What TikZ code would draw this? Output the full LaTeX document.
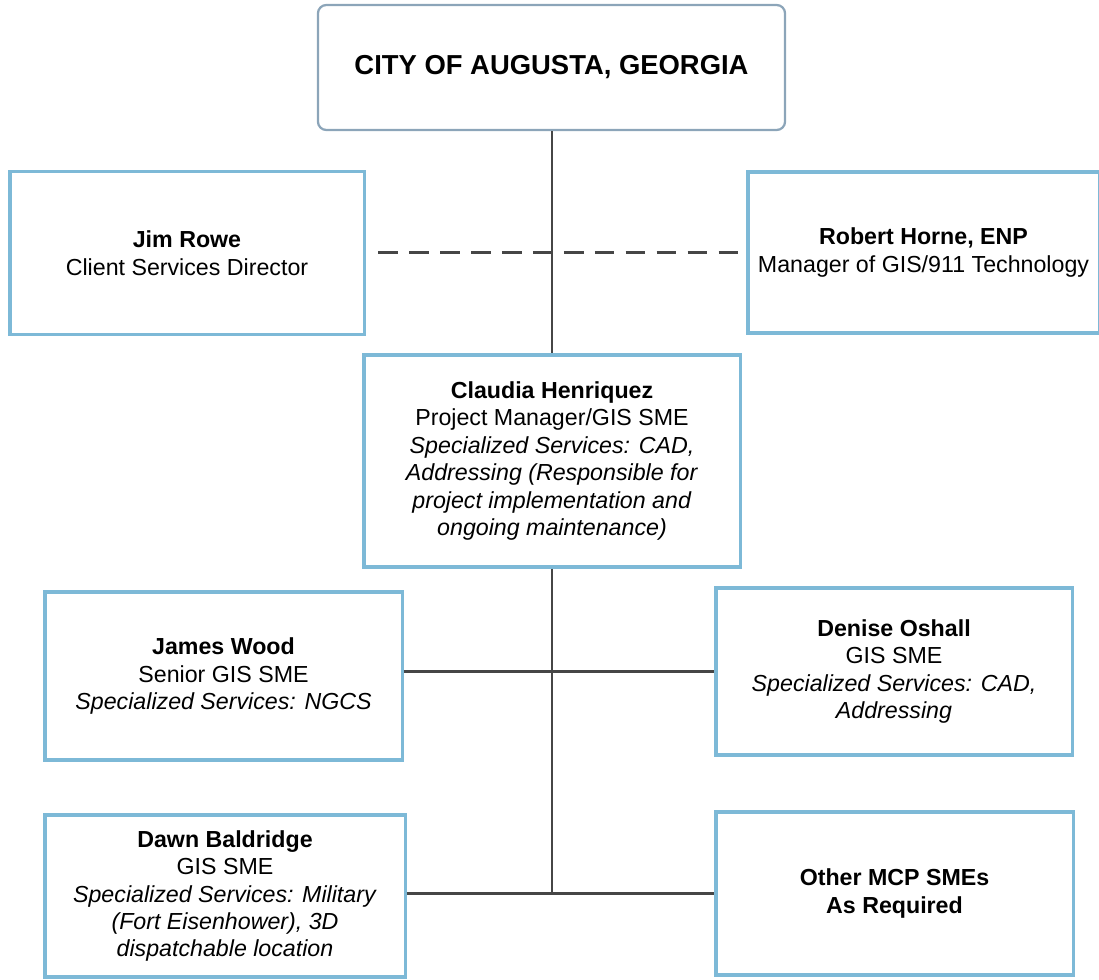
\documentclass[tikz,border=0pt]{standalone}
\usepackage{fontspec}
\setmainfont{Liberation Sans}
\usepackage{xcolor}
\definecolor{boxblue}{RGB}{125,185,215}
\definecolor{topgrey}{RGB}{140,165,185}
\definecolor{linegrey}{RGB}{70,70,70}
\tikzset{
    person/.style={draw=boxblue, line width=2.2pt, fill=white, align=center,
        font=\fontsize{16.5}{19.5}\selectfont, inner sep=0pt},
    link/.style={draw=linegrey, line width=1.8pt},
    tie/.style={draw=linegrey, line width=1.8pt, dash pattern=on 14pt off 8pt}
}
\begin{document}
\begin{tikzpicture}[x=0.025cm, y=-0.025cm]
    \useasboundingbox (0,0) rectangle (1099,980);

    % client
    \node (city) at (551.5, 67.5) [draw=topgrey, line width=1.6pt, rounded corners=6pt,
        minimum width=11.675cm, minimum height=3.125cm,
        font=\fontsize{19.5}{22}\selectfont\bfseries] {CITY OF AUGUSTA, GEORGIA};

    % directors
    \node (rowe) at (187, 253) [person, minimum width=8.85cm, minimum height=4.075cm]
        {\textbf{Jim Rowe}\\Client Services Director};
    \node (horne) at (923.5, 252.5) [person, minimum width=8.775cm, minimum height=4.025cm]
        {\textbf{Robert Horne, ENP}\\Manager of GIS/911 Technology};

    % project manager
    \node (henriquez) at (552, 461) [person, minimum width=9.4cm, minimum height=5.3cm]
        {\textbf{Claudia Henriquez}\\Project Manager/GIS SME\\
        \textit{Specialized Services: CAD,}\\\textit{Addressing (Responsible for}\\
        \textit{project implementation and}\\\textit{ongoing maintenance)}};

    % team
    \node (wood) at (223.5, 676) [person, minimum width=8.925cm, minimum height=4.2cm]
        {\textbf{James Wood}\\Senior GIS SME\\\textit{Specialized Services: NGCS}};
    \node (oshall) at (894, 671.5) [person, minimum width=8.9cm, minimum height=4.175cm]
        {\textbf{Denise Oshall}\\GIS SME\\\textit{Specialized Services: CAD,}\\\textit{Addressing}};
    \node (baldridge) at (225, 896) [person, minimum width=9cm, minimum height=4.05cm]
        {\textbf{Dawn Baldridge}\\GIS SME\\\textit{Specialized Services: Military}\\
        \textit{(Fort Eisenhower), 3D}\\\textit{dispatchable location}};
    \node (others) at (894.5, 893.5) [person, minimum width=8.925cm, minimum height=4.075cm]
        {\textbf{Other MCP SMEs}\\\textbf{As Required}};

    \coordinate (trunk) at (552, 893);

    \draw[link] (city.south -| henriquez.north) -- (henriquez.north);
    \draw[link] (henriquez.south) -- (trunk);
    \draw[link] (oshall.west -| wood.east) -- (oshall.west);
    \draw[link] (baldridge.east |- others.west) -- (others.west);
    \draw[tie] ([xshift=9pt]rowe.east |- horne.west) -- (horne.west);

\end{tikzpicture}
\end{document}
